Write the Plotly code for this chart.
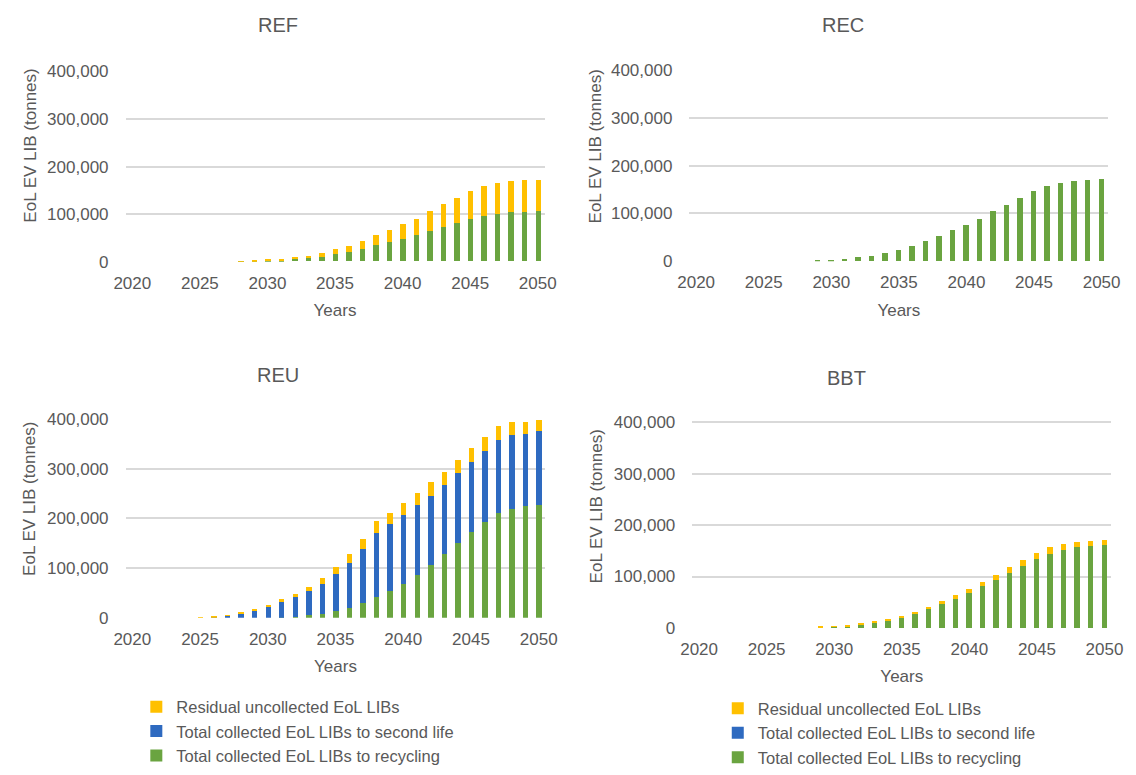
import plotly.graph_objects as go

years = list(range(2020, 2051))

# REF scenario (tonnes)
REF_recycling = [0, 0, 0, 0, 0, 0, 0, 0, 100, 500, 1200, 2500, 5000, 7000, 10000, 15500,
                 20500, 27000, 34000, 40000, 48000, 56000, 64500, 73000, 81500, 89500,
                 96000, 100500, 103000, 104000, 105000]
REF_residual = [0, 0, 0, 0, 0, 0, 0, 0, 400, 1000, 1800, 2200, 3500, 4600, 7000, 9500,
                12100, 16500, 21000, 26000, 29500, 34000, 40500, 47000, 52500, 57500,
                62000, 64500, 66000, 66000, 66000]

# REC scenario
REC_recycling = [0, 0, 0, 0, 0, 0, 0, 0, 0, 1000, 3000, 4700, 8000, 11500, 16500, 24000,
                 32000, 42000, 53000, 64500, 76000, 89000, 104000, 118000, 133000, 146000,
                 157000, 164000, 168000, 170000, 171000]

# REU scenario
REU_recycling = [0, 0, 0, 0, 0, 0, 0, 0, 0, 0, 0, 500, 2500, 5000, 8500, 13000,
                 20500, 29000, 41000, 54500, 69000, 87000, 106000, 127500, 150000, 172000,
                 193500, 211500, 219000, 224000, 226000]
REU_second_life = [0, 0, 0, 0, 0, 0, 1500, 4000, 8000, 15000, 22000, 30500, 39000, 49000,
                   60500, 74500, 90000, 109500, 130500, 133500, 137000, 139000, 140000,
                   139500, 140500, 142000, 142500, 146500, 148000, 146000, 149000]
REU_residual = [0, 0, 0, 0, 0, 500, 500, 1000, 2000, 3000, 4500, 6000, 7000, 9000, 12000,
                14000, 17500, 20000, 22500, 23500, 25000, 25000, 27000, 27000, 26500,
                27000, 28000, 27000, 26000, 24000, 22000]

# BBT scenario
BBT_recycling = [0, 0, 0, 0, 0, 0, 0, 0, 0, 1000, 1500, 3000, 5600, 9400, 14400, 20000,
                 28000, 36000, 46000, 55600, 67000, 80000, 93000, 106000, 120600, 133000,
                 144000, 151000, 157000, 159000, 160600]
BBT_second_life = [0] * 31
BBT_residual = [0, 0, 0, 0, 0, 0, 0, 0, 0, 900, 1000, 1400, 1900, 1600, 2600, 3000,
                3000, 5000, 6500, 7400, 8000, 8000, 9500, 11000, 11400, 12000, 12000,
                12000, 10500, 10000, 10000]

x_ticks = [2020, 2025, 2030, 2035, 2040, 2045, 2050]
y_ticks = [0, 100000, 200000, 300000, 400000]

names = {
    "res": "Residual uncollected EoL LIBs",
    "sec": "Total collected EoL LIBs to second life",
    "rec": "Total collected EoL LIBs to recycling",
}
colors = {"res": "#FFC000", "sec": "#2E6AC0", "rec": "#6AA440"}

W, H = 1136, 775
GRAY = "#595959"
FONT = "Liberation Sans, Arial, sans-serif"
YMAX = 402000

fig = go.Figure()

# (axis suffix, title, series, legend, plot box px (x0, x1, y_400k, y_0), title pos, ytitle pos)
panels = [
    ("", "REF", [("rec", REF_recycling), ("res", REF_residual)], None,
     (116, 544, 65.7, 263), (272, 18), (18, 143)),
    ("2", "REC", [("rec", REC_recycling)], None,
     (692, 1120, 64.3, 262.3), (849, 18), (596, 143)),
    ("3", "REU", [("rec", REU_recycling), ("sec", REU_second_life), ("res", REU_residual)], "legend",
     (116, 545, 425.7, 631.7), (272, 380), (18, 509)),
    ("4", "BBT", [("rec", BBT_recycling), ("sec", BBT_second_life), ("res", BBT_residual)], "legend2",
     (695, 1123, 429.3, 642.3), (852, 383), (597, 516)),
]

layout = {}
annotations = []
for suf, title, series, leg, (x0, x1, y400, y0), (tx, ty), (ax, ay) in panels:
    for key, vals in series:
        fig.add_trace(go.Bar(
            x=years, y=vals, name=names[key],
            marker=dict(color=colors[key], line=dict(width=0)),
            width=0.4,
            xaxis="x" + suf, yaxis="y" + suf,
            showlegend=leg is not None,
            legend=leg if leg else "legend",
        ))
    ytop = y0 - (y0 - y400) * YMAX / 400000
    layout["xaxis" + suf] = dict(
        domain=[x0 / W, x1 / W], range=[2019.5, 2050.5], anchor="y" + suf,
        tickvals=x_ticks,
        showgrid=False, zeroline=False, showline=False, ticks="",
        ticklabelstandoff=9,
        tickfont=dict(size=17, color=GRAY, family=FONT),
        title=dict(text="Years", font=dict(size=17, color=GRAY, family=FONT), standoff=12),
    )
    layout["yaxis" + suf] = dict(
        domain=[1 - y0 / H, 1 - ytop / H], range=[0, YMAX], anchor="x" + suf,
        tickvals=y_ticks, tickformat=",d",
        showgrid=True, gridcolor="#D9D9D9", gridwidth=1.5,
        zeroline=False, showline=False, ticks="", ticklabelstandoff=16,
        tickfont=dict(size=17, color=GRAY, family=FONT),
    )
    annotations.append(dict(
        text=title, x=tx / W, y=1 - ty / H,
        xref="paper", yref="paper", showarrow=False,
        font=dict(size=20, color=GRAY, family=FONT), xanchor="center", yanchor="middle",
    ))
    annotations.append(dict(
        text="EoL EV LIB (tonnes)", x=ax / W, y=1 - ay / H, textangle=-90,
        xref="paper", yref="paper", showarrow=False,
        font=dict(size=17, color=GRAY, family=FONT), xanchor="center", yanchor="middle",
    ))

fig.update_layout(
    width=W, height=H,
    margin=dict(l=0, r=0, t=0, b=0),
    paper_bgcolor="white", plot_bgcolor="white",
    barmode="stack", bargap=0,
    annotations=annotations,
    legend=dict(
        x=127 / W, y=1 - 706 / H, xanchor="left", yanchor="top",
        traceorder="reversed", font=dict(size=16.5, color=GRAY, family=FONT),
        itemwidth=30, tracegroupgap=0, bgcolor="rgba(0,0,0,0)",
    ),
    legend2=dict(
        x=721 / W, y=1 - 708 / H, xanchor="left", yanchor="top",
        traceorder="reversed", font=dict(size=16.5, color=GRAY, family=FONT),
        itemwidth=30, tracegroupgap=0, bgcolor="rgba(0,0,0,0)",
    ),
    **layout,
)

fig.write_html("out.html", post_script="document.body.style.margin='0';",
               config={"displayModeBar": False})
